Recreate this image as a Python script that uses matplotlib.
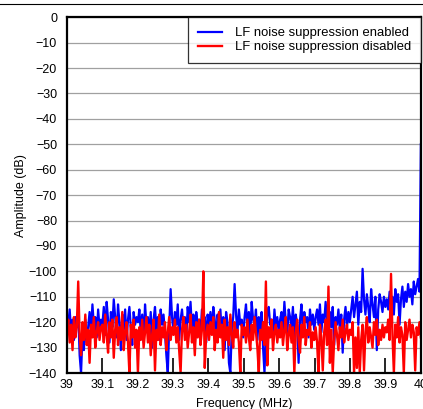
import numpy as np
import matplotlib
matplotlib.use('Agg')
import matplotlib.pyplot as plt
from matplotlib.lines import Line2D

plt.rcParams['font.family'] = ['Liberation Sans', 'DejaVu Sans']

# spectrum values in dB, 25 samples per 0.1 MHz
enabled_db = [
    -117, -121, -115, -124, -119, -127, -118, -122, -116, -133, -140, -125, -131, -119, -128, -122, -116, -124, -113, -121, -118, -126, -115, -122, -119,
    -121, -114, -125, -112, -119, -128, -116, -122, -111, -118, -126, -113, -120, -131, -117, -123, -115, -127, -119, -114, -122, -129, -116, -121, -118,
    -120, -115, -124, -117, -128, -113, -121, -118, -125, -116, -130, -119, -114, -123, -118, -127, -115, -121, -117, -124, -133, -140, -122, -107, -118,
    -124, -116, -121, -113, -127, -119, -115, -122, -118, -126, -114, -120, -112, -123, -117, -129, -116, -121, -119, -125, -115, -122, -118, -128, -117,
    -121, -116, -124, -114, -119, -127, -117, -122, -115, -125, -118, -131, -116, -120, -136, -140, -123, -118, -105, -117, -124, -115, -121, -119, -126,
    -118, -113, -122, -116, -125, -112, -119, -121, -115, -127, -118, -123, -116, -130, -140, -124, -117, -114, -121, -119, -126, -115, -122, -118, -124,
    -119, -116, -123, -112, -120, -125, -115, -118, -122, -114, -127, -117, -121, -136, -119, -113, -124, -116, -120, -118, -126, -115, -121, -117, -123,
    -118, -115, -121, -113, -124, -117, -120, -112, -119, -126, -116, -122, -114, -129, -118, -121, -115, -123, -117, -132, -119, -114, -122, -116, -120,
    -115, -110, -118, -113, -108, -121, -112, -116, -99, -111, -117, -109, -114, -120, -107, -113, -118, -110, -131, -115, -109, -112, -116, -110, -114,
    -111, -115, -108, -113, -110, -117, -107, -112, -109, -121, -111, -106, -114, -108, -112, -105, -110, -107, -113, -104, -109, -106, -103, -108, -50,
]
disabled_db = [
    -124, -119, -128, -121, -131, -118, -126, -122, -104, -125, -133, -120, -127, -117, -129, -123, -136, -121, -126, -118, -130, -124, -120, -127, -122,
    -121, -128, -117, -125, -132, -120, -126, -119, -134, -123, -118, -129, -122, -127, -116, -131, -124, -120, -128, -140, -121, -126, -119, -130, -123,
    -140, -122, -127, -119, -130, -124, -118, -128, -121, -133, -125, -119, -139, -123, -127, -117, -129, -122, -126, -120, -131, -124, -118, -127, -122,
    -125, -119, -128, -122, -131, -140, -123, -118, -127, -121, -130, -124, -117, -128, -122, -133, -120, -126, -119, -129, -123, -100, -138, -125, -121,
    -127, -120, -125, -118, -131, -123, -128, -116, -126, -121, -134, -119, -127, -122, -129, -117, -125, -130, -120, -126, -123, -128, -140, -121, -125,
    -122, -128, -119, -126, -131, -121, -127, -118, -124, -130, -140, -123, -127, -120, -129, -104, -137, -122, -126, -119, -131, -124, -121, -128, -123,
    -126, -120, -129, -123, -118, -131, -125, -121, -128, -122, -140, -124, -119, -127, -132, -121, -126, -118, -129, -123, -125, -120, -130, -124, -127,
    -122, -128, -140, -121, -126, -139, -124, -119, -129, -106, -136, -123, -140, -127, -120, -125, -131, -122, -126, -119, -128, -124, -121, -127, -123,
    -125, -120, -140, -126, -138, -122, -140, -127, -121, -139, -124, -118, -128, -122, -126, -130, -120, -125, -119, -129, -123, -127, -121, -126, -122,
    -124, -119, -127, -101, -125, -140, -121, -126, -118, -128, -122, -125, -140, -120, -127, -123, -119, -126, -121, -124, -139, -122, -125, -120, -126,
]
freq_mhz = np.linspace(39, 40, len(enabled_db))

x_ticks = [39, 39.1, 39.2, 39.3, 39.4, 39.5, 39.6, 39.7, 39.8, 39.9, 40]
x_labels = ['39', '39.1', '39.2', '39.3', '39.4', '39.5', '39.6', '39.7', '39.8', '39.9', '40']
y_ticks = list(range(0, -150, -10))

fig = plt.figure(figsize=(4.23, 4.09), dpi=100)
ax = fig.add_axes([0.158, 0.088, 0.837, 0.870])

# line across the top of the figure
fig.add_artist(Line2D([0, 1], [0.991, 0.991], color='black', lw=0.8, transform=fig.transFigure))

ax.plot(freq_mhz, enabled_db, color='#0000ff', lw=1.6, label='LF noise suppression enabled')
ax.plot(freq_mhz, disabled_db, color='#ff0000', lw=1.7, label='LF noise suppression disabled')

ax.set_xlim(39, 40)
ax.set_ylim(-140, 0)
ax.set_xticks(x_ticks)
ax.set_xticklabels(x_labels)
ax.set_yticks(y_ticks)
ax.set_yticklabels([str(v).replace('-', '\u2212') for v in y_ticks])
ax.yaxis.grid(True, color='#a0a0a0', lw=0.9)
ax.set_axisbelow(True)

ax.tick_params(axis='x', direction='in', length=10.5, width=1.2, labelsize=9, pad=4, color='black')
ax.tick_params(axis='y', length=0, labelsize=9, pad=7)
for s in ax.spines.values():
    s.set_linewidth(1.6)
    s.set_zorder(5)

ax.set_xlabel('Frequency (MHz)', fontsize=9, labelpad=5)
ax.set_ylabel('Amplitude (dB)', fontsize=9, labelpad=1)

leg = ax.legend(loc='upper right', fontsize=9.4, frameon=True, fancybox=False,
                borderaxespad=0, handlelength=1.9, handletextpad=0.95,
                labelspacing=0.15, borderpad=0.75)
leg.get_frame().set_edgecolor('black')
leg.get_frame().set_linewidth(0.9)

fig.savefig('out.png', dpi=100)
